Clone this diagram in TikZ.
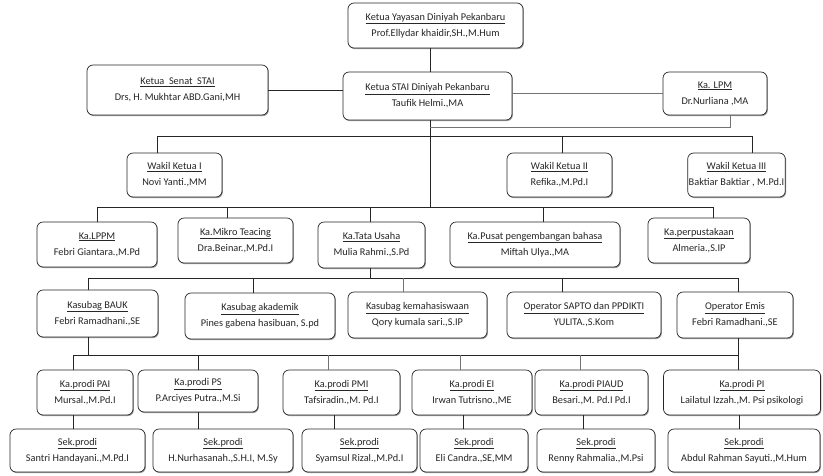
\documentclass[tikz,border=0pt]{standalone}
\usepackage{fontspec}
\setmainfont{Carlito}
\usetikzlibrary{shadows}
\begin{document}
\begin{tikzpicture}[x=1pt,y=-1pt,
  orgbox/.style={draw=black!85, line width=0.7pt, rounded corners=6pt, fill=white,
    align=center, inner sep=1pt, text=black!85,
    font=\fontsize{10.3}{16}\selectfont,
    drop shadow={shadow xshift=0.9pt, shadow yshift=-1.1pt, opacity=0.55, fill=black!70}},
  link/.style={draw=black!85, line width=0.9pt},
  thin/.style={draw=black!55, line width=0.6pt}]
\useasboundingbox (0,0) rectangle (823,475);

% level 0/1
\node[orgbox, minimum width=175pt, minimum height=45pt] (yay) at (435.5,25.5) {\underline{Ketua Yayasan Diniyah Pekanbaru}\\Prof.Ellydar khaidir,SH.,M.Hum};
\node[orgbox, minimum width=169pt, minimum height=48pt] (stai) at (427.5,96) {\underline{Ketua STAI Diniyah Pekanbaru}\\Taufik Helmi.,MA};
\node[orgbox, minimum width=181pt, minimum height=50pt] (senat) at (177.5,90) {\underline{Ketua\ \ Senat\ \ STAI}\\Drs, H. Mukhtar ABD.Gani,MH};
\node[orgbox, minimum width=104pt, minimum height=43pt] (lpm) at (715,93.5) {\underline{Ka. LPM}\\Dr.Nurliana ,MA};

% wakil
\node[orgbox, minimum width=95pt, minimum height=44pt] (w1) at (174.5,175) {\underline{Wakil Ketua I}\\Novi Yanti.,MM};
\node[orgbox, minimum width=105pt, minimum height=44pt] (w2) at (559.5,175) {\underline{Wakil Ketua II}\\Refika.,M.Pd.I};
\node[orgbox, minimum width=93pt, minimum height=44pt] (w3) at (736.5,175) {\underline{Wakil Ketua III}\\Baktiar Baktiar , M.Pd.I};

% level 3
\node[orgbox, minimum width=120pt, minimum height=45pt] (lppm) at (97,244.5) {\underline{Ka.LPPM}\\Febri Giantara.,M.Pd};
\node[orgbox, minimum width=115pt, minimum height=45pt] (mikro) at (235.5,240.5) {\underline{Ka.Mikro Teacing}\\Dra.Beinar.,M.Pd.I};
\node[orgbox, minimum width=107pt, minimum height=46pt] (tu) at (371.5,245) {\underline{Ka.Tata Usaha}\\Mulia Rahmi.,S.Pd};
\node[orgbox, minimum width=170pt, minimum height=45pt] (pusat) at (535,244.5) {\underline{Ka.Pusat pengembangan bahasa}\\Miftah Ulya.,MA};
\node[orgbox, minimum width=102pt, minimum height=45pt] (perpus) at (699,240.5) {\underline{Ka.perpustakaan}\\Almeria.,S.IP};

% level 4
\node[orgbox, minimum width=121pt, minimum height=47pt] (bauk) at (97.5,313.5) {\underline{Kasubag BAUK}\\Febri Ramadhani.,SE};
\node[orgbox, minimum width=150pt, minimum height=46pt] (akad) at (260,316) {\underline{Kasubag akademik}\\Pines gabena hasibuan, S.pd};
\node[orgbox, minimum width=139pt, minimum height=46pt] (kema) at (417.5,315) {\underline{Kasubag kemahasiswaan}\\Qory kumala sari.,S.IP};
\node[orgbox, minimum width=154pt, minimum height=46pt] (sapto) at (584,315) {\underline{Operator SAPTO dan PPDIKTI}\\YULITA.,S.Kom};
\node[orgbox, minimum width=116pt, minimum height=46pt] (emis) at (735,315) {\underline{Operator Emis}\\Febri Ramadhani.,SE};

% level 5 kaprodi
\node[orgbox, minimum width=96pt, minimum height=45pt] (pai) at (85,392.5) {\underline{Ka.prodi PAI}\\Mursal.,M.Pd.I};
\node[orgbox, minimum width=120pt, minimum height=42pt] (ps) at (198,391) {\underline{Ka.prodi PS}\\P.Arciyes Putra.,M.Si};
\node[orgbox, minimum width=117pt, minimum height=45pt] (pmi) at (341.5,392.5) {\underline{Ka.prodi PMI}\\Tafsiradin.,M. Pd.I};
\node[orgbox, minimum width=120pt, minimum height=45pt] (ei) at (472,392.5) {\underline{Ka.prodi EI}\\Irwan Tutrisno.,ME};
\node[orgbox, minimum width=113pt, minimum height=45pt] (piaud) at (591.5,392.5) {\underline{Ka.prodi PIAUD}\\Besari.,M. Pd.I Pd.I};
\node[orgbox, minimum width=157pt, minimum height=45pt] (pi) at (742,392.5) {\underline{Ka.prodi PI}\\Lailatul Izzah.,M. Psi psikologi};

% level 6 sekprodi
\node[orgbox, minimum width=135pt, minimum height=43pt] (s1) at (77.5,450.5) {\underline{Sek.prodi}\\Santri Handayani.,M.Pd.I};
\node[orgbox, minimum width=140pt, minimum height=43pt] (s2) at (223,450.5) {\underline{Sek.prodi}\\H.Nurhasanah.,S.H.I, M.Sy};
\node[orgbox, minimum width=115pt, minimum height=43pt] (s3) at (359.5,450.5) {\underline{Sek.prodi}\\Syamsul Rizal.,M.Pd.I};
\node[orgbox, minimum width=108pt, minimum height=43pt] (s4) at (474,450.5) {\underline{Sek.prodi}\\Eli Candra.,SE,MM};
\node[orgbox, minimum width=118pt, minimum height=43pt] (s5) at (596,450.5) {\underline{Sek.prodi}\\Renny Rahmalia.,M.Psi};
\node[orgbox, minimum width=152pt, minimum height=43pt] (s6) at (744,450.5) {\underline{Sek.prodi}\\Abdul Rahman Sayuti.,M.Hum};

% bus coordinates
\coordinate (b2) at (430,136);
\coordinate (b2t) at (430,127);
\coordinate (b3) at (430,207);
\coordinate (b4) at (370,278);
\coordinate (b5) at (738,355);

% connectors top
\draw[link] (430,0 |- yay.south) -- (430,0 |- stai.north);
\draw[link] (senat.east) -- (senat.east -| stai.west);
\draw[thin] (lpm.west) -- (lpm.west -| stai.east);
\draw[link] (430,0 |- stai.south) -- (b3);
\draw[thin] (730,0 |- lpm.south) -- (730,0 |- b2t) -- (b2t);

% wakil bus
\draw[link] (157,0 |- w1.north) -- (157,0 |- b2) -- (752,0 |- b2) -- (752,0 |- w3.north);
\draw[link] (562,0 |- b2) -- (562,0 |- w2.north);

% level 3 bus
\draw[link] (97,0 |- lppm.north) -- (97,0 |- b3) -- (713,0 |- b3) -- (713,0 |- perpus.north);
\draw[link] (227,0 |- b3) -- (227,0 |- mikro.north);
\draw[link] (370,0 |- b3) -- (370,0 |- tu.north);
\draw[link] (543,0 |- b3) -- (543,0 |- pusat.north);

% level 4 bus
\draw[link] (370,0 |- tu.south) -- (b4);
\draw[link] (88,0 |- bauk.north) -- (88,0 |- b4) -- (738,0 |- b4) -- (738,0 |- emis.north);
\draw[link] (253,0 |- b4) -- (253,0 |- akad.north);
\draw[thin] (403,0 |- b4) -- (403,0 |- kema.north);
\draw[link] (562,0 |- b4) -- (562,0 |- sapto.north);

% level 5 bus
\draw[link] (738,0 |- emis.south) -- (b5);
\draw[link] (88,0 |- bauk.south) -- (88,0 |- b5);
\draw[link] (73,0 |- pai.north) -- (73,0 |- b5) -- (b5) -- (738,0 |- pi.north);
\draw[link] (198,0 |- b5) -- (198,0 |- ps.north);
\draw[thin] (328,0 |- b5) -- (328,0 |- pmi.north);
\draw[thin] (460,0 |- b5) -- (460,0 |- ei.north);
\draw[thin] (580,0 |- b5) -- (580,0 |- piaud.north);

% kaprodi to sekprodi
\draw[link] (73,0 |- pai.south) -- (73,0 |- s1.north);
\draw[link] (198,0 |- ps.south) -- (198,0 |- s2.north);
\draw[link] (334,0 |- pmi.south) -- (334,0 |- s3.north);
\draw[link] (463,0 |- ei.south) -- (463,0 |- s4.north);
\draw[link] (583,0 |- piaud.south) -- (583,0 |- s5.north);
\draw[link] (739,0 |- pi.south) -- (739,0 |- s6.north);
\end{tikzpicture}
\end{document}
